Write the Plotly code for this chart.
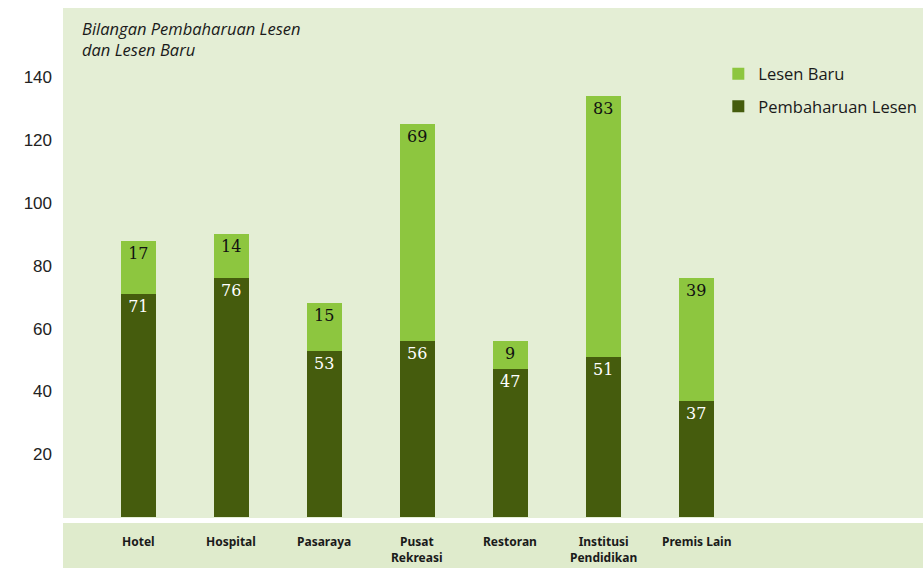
import plotly.graph_objects as go

# Licence categories and counts
categories = ["Hotel", "Hospital", "Pasaraya", "Pusat<br>Rekreasi", "Restoran",
              "Institusi<br>Pendidikan", "Premis Lain"]
pembaharuan = [71, 76, 53, 56, 47, 51, 37]
baru = [17, 14, 15, 69, 9, 83, 39]
y_ticks = [20, 40, 60, 80, 100, 120, 140]

DARK = "#455C0D"
LIGHT = "#8DC63F"
PANEL = "#E4EED5"
BAND = "#DFEBCC"

fig = go.Figure()
fig.add_trace(go.Bar(
    x=categories, y=pembaharuan, name="Pembaharuan Lesen",
    marker=dict(color=DARK, line=dict(width=0)),
    text=pembaharuan, textposition="inside", insidetextanchor="end",
    textfont=dict(family="DejaVu Serif", size=16, color="white"),
    legendgroup="a", legendrank=2, hoverinfo="skip",
))
fig.add_trace(go.Bar(
    x=categories, y=baru, name="Lesen Baru",
    marker=dict(color=LIGHT, line=dict(width=0)),
    text=baru, textposition="inside", insidetextanchor="end",
    textfont=dict(family="DejaVu Serif", size=16, color="#111111"),
    legendgroup="b", legendrank=1, hoverinfo="skip",
))

# category labels in the band below the plot
for c in categories:
    fig.add_annotation(
        x=c, xref="x", y=-0.026, yref="paper", yanchor="top",
        text=c, showarrow=False,
        font=dict(family="Noto Sans", size=12, color="#1a1a1a", weight="bold"),
        align="center",
    )

fig.add_annotation(
    x=0.02, xref="paper", y=0.987, yref="paper", xanchor="left", yanchor="top",
    text="<i>Bilangan Pembaharuan Lesen<br>dan Lesen Baru</i>", showarrow=False,
    align="left", font=dict(family="Open Sans", size=16.5, color="#1a1a1a"),
)

fig.update_layout(
    width=923, height=568,
    margin=dict(l=63, r=0, t=8, b=50),
    paper_bgcolor="white",
    plot_bgcolor=PANEL,
    barmode="stack",
    bargap=0.624,
    showlegend=True,
    legend=dict(
        x=0.762, y=0.905, xanchor="left", yanchor="top",
        traceorder="grouped", tracegroupgap=8,
        bgcolor="rgba(0,0,0,0)",
        font=dict(family="Open Sans", size=16.5, color="#1a1a1a"),
        itemwidth=30,
    ),
    xaxis=dict(
        type="category", range=[-0.81, 8.44],
        showticklabels=False, showgrid=False, zeroline=False, ticks="",
    ),
    yaxis=dict(
        range=[-0.32, 162.1], tickvals=y_ticks, showgrid=False,
        zeroline=False, ticks="", ticklabelstandoff=10,
        tickfont=dict(family="Liberation Sans", size=17, color="#222222"),
    ),
    shapes=[
        dict(type="rect", xref="paper", yref="paper", x0=0, x1=1,
             y0=-0.0098, y1=-0.098, fillcolor=BAND, line=dict(width=0),
             layer="below"),
    ],
)

fig.write_html("out.html")
